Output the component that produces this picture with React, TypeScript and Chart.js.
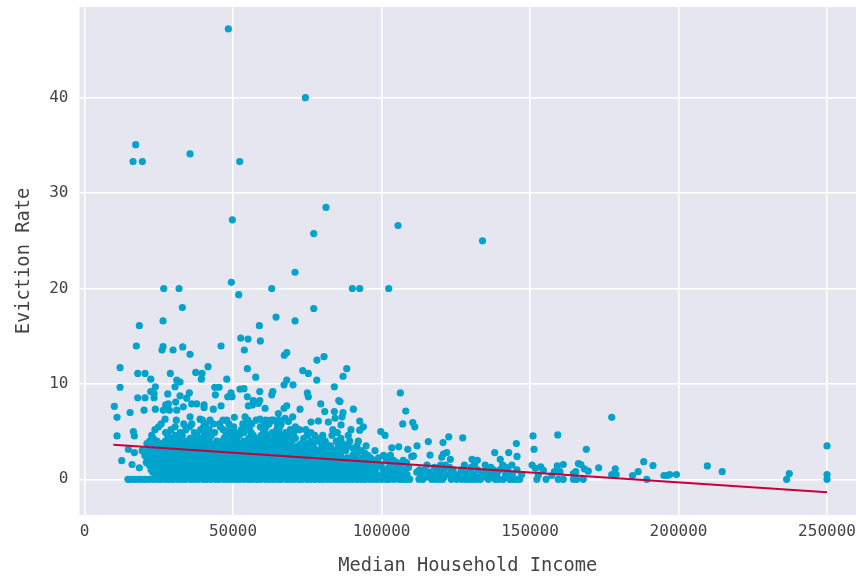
import React, { useEffect, useRef } from "react";
import { Chart, registerables } from "chart.js";

Chart.register(...registerables);

// Isolated points.
const sparseIncome = [
  48420, 74350, 17230, 16330, 19470, 35520, 52250, 81300, 49770, 77170, 105560, 70880, 49430, 26660, 31820, 63030, 90170, 92660, 102420, 51910,
  32930, 77170, 64480, 70880, 26430, 18450, 58860, 52590, 55050, 59190, 134000,
  17440, 26430, 26090, 29800, 33060, 35520, 45960, 53810, 68080, 67270, 78250, 80640, 11950, 17910, 20370, 28890, 37440, 39560, 41580,
  54820, 73470, 75360, 57640, 88280, 87040, 22290, 39330, 47880, 78180, 31040, 32150, 68080, 67170, 70200, 11950, 23840, 30470, 84110, 43840,
  45290, 52360, 53700, 59000, 63370, 63030, 22290, 23400, 28010, 35290, 49330, 48210, 44050, 75020, 75360, 106330, 32150, 17910, 20370, 23400,
  49670, 54820, 34400, 85590, 86000, 56840, 59000, 56500, 55150, 58520, 10030, 36090, 37780, 40240, 40240, 27340, 28220, 30700, 79530, 45960,
  68080, 67170, 60780, 72560, 90510, 23840, 20030, 26530, 28560, 31040, 33260, 43370, 108150, 15320, 80870, 84110, 87040, 86700, 65250, 10940,
  27110, 35520, 54040, 50440, 67510, 70090, 68620, 59090, 61890, 63570, 38890, 42260, 47880, 92660, 76260, 78730, 82090, 84350, 110510, 111180,
  107140, 86360, 93870, 92660, 99730, 101180, 10940, 16430, 16770, 14750, 16770, 12520, 15990, 18450,
  115750, 122630, 120700, 127340, 111960, 105790, 103430, 108820, 145390, 151010, 151350, 159330, 116330, 110170, 110740, 121950, 120810, 120270, 123170, 138110,
  142820, 145620, 139980, 130470, 132260, 168950, 177520, 250000, 250000, 250000, 237300, 236400, 214700, 209700, 199300, 197000, 195100, 196300, 191400, 188300,
  186400, 184500, 189300, 178700, 179000, 177500, 173100, 169600, 168300, 167900, 166300, 167100, 165400, 164600, 164600, 165700, 161200, 159200, 158200, 157300,
  160100, 161200, 159500, 155400, 152300, 154500, 153600, 151800, 150700, 152800,
];
const sparseRate = [
  47.2, 40.0, 35.07, 33.3, 33.3, 34.1, 33.3, 28.5, 27.2, 25.75, 26.6, 21.7, 20.65, 20, 20, 20, 20, 20, 20, 19.35,
  18.0, 17.9, 17.0, 16.6, 16.6, 16.1, 16.1, 14.8, 14.7, 14.5, 25,
  13.97, 13.9, 13.55, 13.55, 13.87, 13.1, 13.97, 13.55, 13.27, 13.0, 12.5, 12.85, 11.7, 11.1, 11.1, 11.1, 11.2, 11.1, 11.8,
  11.6, 11.4, 11.1, 10.7, 11.6, 10.8, 10.5, 10.5, 10.5, 10.4, 10.4, 10.2, 10.4, 9.9, 9.9, 9.65, 9.7, 9.7, 9.7, 9.65,
  9.65, 9.45, 9.5, 9.2, 9.2, 8.85, 9.2, 9.0, 8.95, 9.05, 9.05, 8.65, 8.85, 9.05, 8.65, 9.05, 8.75, 8.55, 8.55, 8.55,
  8.65, 8.65, 8.5, 8.25, 8.15, 8.25, 8.25, 7.8, 7.7, 7.95, 7.65, 7.9, 7.9, 7.8, 7.5, 7.8, 7.9, 8.1, 7.9, 7.7,
  7.7, 7.45, 7.45, 7.35, 7.35, 7.35, 7.25, 7.25, 7.25, 7.25, 7.6, 7.35, 7.15, 7.0, 7.1, 7.1, 7.0, 6.55, 6.9, 6.5,
  6.3, 6.55, 6.55, 6.5, 6.4, 6.55, 6.05, 6.3, 6.15, 6.2, 6.3, 6.2, 6.2, 6.1, 6.0, 6.1, 6.0, 6.4, 5.95, 5.5,
  5.8, 5.7, 5.5, 5.15, 5.0, 4.6, 4.55, 5.0, 4.55, 3.15, 2.8, 1.95, 1.55, 1.2,
  3.95, 4.45, 3.85, 4.35, 3.5, 3.4, 3.3, 3.15, 3.75, 4.55, 3.15, 4.65, 2.55, 2.4, 2.45, 2.8, 2.65, 2.3, 2.1, 2.8,
  2.8, 2.4, 2.1, 2.1, 2.0, 3.15, 6.5, 3.5, 0.5, 0.0, 0.6, 0.0, 0.8, 1.4, 0.5, 0.5, 0.4, 0.4, 1.45, 1.85,
  0.8, 0.4, 0.0, 1.1, 0.5, 0.5, 1.2, 0.85, 1.1, 0.0, 1.65, 1.55, 0.8, 0.6, 0.0, 0.0, 1.55, 1.4, 0.8, 0.4,
  0.8, 0.0, 0.0, 0.0, 0.0, 0.95, 1.3, 1.15, 1.5, 0.45,
];

// Dense cloud: incomes read along horizontal strips of the picture.
const stripRates = [0, 0.5, 1, 1.5, 2, 2.5, 3, 3.5, 4, 4.6, 5.2, 5.8, 0.25, 0.75, 1.25, 1.75, 2.25, 2.75, 3.25, 3.75, 4.3, 4.9, 5.5, 6.2];
const strip0 = [
  14600, 15500, 16800, 18100, 19300, 20500, 21900, 23200, 24600, 25800, 27300, 28600, 29900, 31400, 32800, 34100, 35700, 37000, 38300, 39900, 41200, 42600, 44100, 45300,
  46900, 48200, 49600, 51000, 52300, 53800, 55200, 56500, 58000, 59300, 60900, 62200, 63600, 65100, 66300, 67900, 69200, 70600, 72100, 73300, 74900, 76200, 77600, 79100,
  80300, 81800, 83200, 84700, 86000, 87500, 88900, 90200, 91700, 93100, 94400, 95900, 97300, 98600, 100100, 101500, 102600, 104200, 105900, 107100, 108300, 109500,
  112600, 113900, 116900, 118300, 119400, 120600, 123500, 125300, 127000, 128400, 129600, 130800, 132000, 133300, 136000, 138300, 139500, 141000, 143200, 144300, 145400, 146500,
];
const strip05 = [
  23800, 25900, 27700, 29800, 31600, 33900, 35700, 37800, 39700, 41500, 43900, 45800, 47700, 49900, 51600, 53900, 55700, 57600, 59800, 61600, 63900, 65700, 67600, 69900,
  71700, 73800, 75600, 77900, 79700, 81600, 83800, 85700, 87900, 89600, 91800, 93700, 95900, 98600, 100800, 103600, 106300, 108600, 113300, 117200, 119600, 122600, 125800,
  128500, 130900, 133800, 136900, 138800, 141800, 144000, 147200,
];
const strip1 = [
  22400, 24700, 26800, 28600, 30900, 32700, 34800, 36600, 38900, 40800, 42600, 44700, 46900, 48800, 50600, 52900, 54700, 56800, 58700, 60900, 62600, 64800, 66700, 68600,
  70800, 72900, 74600, 76800, 78600, 80900, 82700, 84600, 86900, 88700, 90800, 92600, 94900, 96900, 100600, 103900, 105600, 107900, 112800, 114300, 118700, 120900, 124100,
  126900, 129900, 132400, 135300, 137600, 139800, 142500, 145600,
];
const strip15 = [
  21800, 23600, 25900, 27900, 29700, 31800, 33600, 35900, 37700, 39600, 41800, 43900, 45700, 47600, 49800, 51700, 53600, 55900, 57800, 59700, 61600, 63900, 65700, 67800,
  69600, 71900, 73700, 75600, 77800, 79700, 81900, 83600, 85800, 87600, 89900, 91700, 93900, 96700, 99900, 104800, 106500, 115300, 119900, 121500, 127900, 131300, 134900, 140800, 143900,
];
const strip2 = [
  21100, 22900, 24800, 26900, 28800, 30700, 32900, 34700, 36800, 38600, 40900, 42700, 44800, 46600, 48900, 50700, 52800, 54600, 56900, 58800, 60600, 62800, 64700, 66900,
  68600, 70800, 72700, 74900, 76700, 78800, 80600, 82800, 84600, 87100, 89800, 92100, 94800, 97500, 101600, 104100, 107300,
];
const strip25 = [
  20300, 22100, 24200, 25900, 28100, 29900, 32000, 33800, 35900, 37700, 39900, 41800, 43600, 45900, 47800, 49600, 51900, 53700, 55800, 57600, 59900, 61700, 63800, 65600,
  67900, 69800, 71600, 73800, 75700, 77900, 79800, 81700, 84000, 86200, 90300, 95400, 100700, 103000,
];
const strip3 = [
  19400, 21500, 23200, 25400, 27700, 29300, 31500, 33200, 35400, 37100, 39300, 41400, 43100, 45200, 47400, 49100, 51300, 53200, 55400, 57100, 59300, 61400, 63200, 65400,
  67200, 69300, 71100, 73400, 75500, 78500, 81200, 84400, 87900, 93000, 97800,
];
const strip35 = [
  22900, 26700, 28900, 31100, 33700, 35300, 37600, 39800, 41300, 43600, 46700, 48300, 50600, 52800, 55300, 57300, 59700, 61800, 63700, 65900, 68200, 71800, 74100, 76800,
  79900, 82800, 85500, 88700, 91700, 94800,
];
const strip4 = [
  21900, 24400, 27200, 29700, 32300, 34400, 36800, 38700, 41100, 44500, 46300, 49200, 51400, 53700, 56200, 58400, 60600, 62900, 65000, 67400, 69800, 76300, 78500, 81000,
  84800, 89300, 92200,
];
const strip46 = [
  22600, 28000, 30400, 32900, 37900, 40300, 42700, 47600, 49800, 52100, 56800, 59500, 61300, 64100, 66100, 68700, 75000, 77500, 80200, 83300, 88800,
];
const strip52 = [
  23700, 29100, 34100, 39100, 41900, 46700, 48900, 52800, 55500, 60200, 64700, 69300, 72400, 74500, 83600, 89700,
];
const strip58 = [
  25800, 33400, 36100, 40800, 43300, 45400, 48600, 53300, 56300, 60500, 62100, 64900, 66200,
];
const strip025 = [
  24900, 26700, 28800, 30600, 32800, 34900, 36700, 38800, 40600, 42800, 44700, 46800, 48700, 50800, 52600, 54800, 56700, 58900, 60700, 62800, 64700, 66800, 68700, 70800,
  72600, 74800, 76700, 78800, 80700, 82800, 84700, 86800, 88700, 90900, 92700, 94900, 97100, 99600, 102100, 105000, 107600, 115100, 121100, 124300, 131900, 135200, 142600,
];
const strip075 = [
  23000, 25100, 27000, 29100, 31000, 33100, 35000, 37100, 38900, 41100, 43000, 45100, 47000, 49100, 51000, 53100, 55000, 57100, 59000, 61100, 63000, 65100, 67000, 69100,
  71000, 73100, 75000, 77100, 79000, 81100, 83000, 85100, 87000, 89100, 91000, 93100, 95200, 97800, 101700, 104700, 111900, 116000, 123500, 127700, 134400, 139000,
];
const strip125 = [
  22900, 25000, 27300, 29200, 31300, 33200, 35300, 37200, 39300, 41200, 43300, 45200, 47300, 49200, 51300, 53200, 55300, 57200, 59300, 61200, 63300, 65200, 67300, 69200,
  71300, 73200, 75300, 77200, 79300, 81200, 83300, 85200, 87300, 89200, 91300, 93200, 95300, 98300, 102400, 109100, 117800, 122900, 130200, 136800, 141900,
];
const strip175 = [
  20800, 22400, 24500, 26400, 28500, 30400, 32500, 34400, 36500, 38400, 40500, 42400, 44500, 46400, 48500, 50400, 52500, 54400, 56500, 58400, 60500, 62400, 64500, 66400,
  68500, 70400, 72500, 74400, 76500, 78400, 80500, 82400, 84500, 86400, 88500, 90900, 93300, 96100, 98800, 103000, 105200, 108400,
];
const strip225 = [
  21500, 23300, 25300, 27400, 29400, 31300, 33400, 35300, 37400, 39300, 41400, 43300, 45400, 47300, 49400, 51300, 53400, 55300, 57400, 59300, 61400, 63300, 65400, 67300,
  69400, 71300, 73400, 75300, 77400, 79300, 81400, 83300, 85400, 88400, 91400, 93700, 96300, 99000,
];
const strip275 = [
  22800, 24700, 26600, 28700, 30600, 32700, 34600, 36700, 38600, 40700, 42600, 44700, 46600, 48700, 50600, 52700, 54600, 56700, 58600, 60700, 62600, 64700, 66600, 68700,
  70600, 72700, 74600, 76700, 80400, 82900, 85200, 91800, 94300,
];
const strip325 = [
  24300, 26200, 28300, 30200, 32300, 34200, 36300, 38200, 40300, 42200, 44300, 46200, 48300, 50200, 52300, 54200, 56300, 58200, 60300, 62200, 64300, 66200, 68300, 70200,
  72300, 74800, 77300, 79900, 83100, 86800, 90400,
];
const strip375 = [
  21000, 25500, 27600, 29900, 32000, 34600, 36400, 38500, 40800, 42400, 44800, 47200, 49500, 51800, 54100, 56000, 58200, 60800, 62900, 64800, 67100, 69400, 73000, 75300, 81300, 86900,
];
const strip43 = [
  23100, 28500, 31000, 35600, 37400, 39900, 42000, 47000, 50700, 55300, 57600, 60000, 61900, 64400, 66500, 68600, 71000, 73800, 79500, 86300,
];
const strip49 = [
  27300, 32200, 37000, 41200, 43800, 48400, 51000, 53700, 56100, 60800, 63200, 65500, 67700, 70500, 76200, 85100,
];
const strip55 = [
  24900, 30500, 35400, 40100, 45700, 50200, 54300, 59200, 61100, 65800, 71000,
];
const strip62 = [
  30900, 39700, 46600, 55000, 57800, 61000, 63000, 65500,
];
const stripIncomes = [
  strip0, strip05, strip1, strip15, strip2, strip25, strip3, strip35, strip4, strip46, strip52, strip58,
  strip025, strip075, strip125, strip175, strip225, strip275, strip325, strip375, strip43, strip49, strip55, strip62,
];

// Fitted line end points.
const trendIncome = [9700, 250000];
const trendRate = [3.63, -1.36];

const xTicks = [0, 50000, 100000, 150000, 200000, 250000];
const yTicks = [0, 10, 20, 30, 40];

const monoFont = "'DejaVu Sans Mono', monospace";
const textColor = "#444444";

export default function App() {
  const ref = useRef<HTMLCanvasElement>(null);

  useEffect(() => {
    if (!ref.current) return;
    const cloud: { x: number; y: number }[] = sparseIncome.map((x, i) => ({ x, y: sparseRate[i] }));
    stripIncomes.forEach((incomes, s) => incomes.forEach((x) => cloud.push({ x, y: stripRates[s] })));
    const trend = trendIncome.map((x, i) => ({ x, y: trendRate[i] }));

    const chart = new Chart(ref.current, {
      type: "scatter",
      data: {
        datasets: [
          {
            data: trend,
            showLine: true,
            borderColor: "#c70039",
            borderWidth: 2,
            pointRadius: 0,
            order: 0,
          },
          {
            data: cloud,
            backgroundColor: "#00a3cc",
            borderWidth: 0,
            pointRadius: 3.6,
            order: 1,
          },
        ],
      },
      options: {
        responsive: false,
        animation: false,
        layout: { autoPadding: false, padding: { top: 7, right: 0, left: 0, bottom: 0 } },
        plugins: { legend: { display: false }, tooltip: { enabled: false } },
        scales: {
          x: {
            type: "linear",
            min: -1700,
            max: 259760,
            afterBuildTicks: (s: any) => { s.ticks = xTicks.map((value) => ({ value })); },
            afterFit: (s: any) => { s.height = 62; s.paddingLeft = 0; s.paddingRight = 0; },
            grid: { color: "#ffffff", lineWidth: 1.5, drawTicks: false },
            border: { display: false },
            ticks: { color: textColor, font: { family: monoFont, size: 16 }, padding: 7, maxRotation: 0, callback: (v: any) => String(v) },
            title: { display: true, text: "Median Household Income", color: textColor, font: { family: monoFont, size: 18.7 }, padding: { top: 8, bottom: 0 } },
          },
          y: {
            type: "linear",
            min: -3.74,
            max: 49.5,
            afterBuildTicks: (s: any) => { s.ticks = yTicks.map((value) => ({ value })); },
            afterFit: (s: any) => { s.width = 79.5; s.paddingTop = 0; s.paddingBottom = 0; },
            grid: { color: "#ffffff", lineWidth: 1.5, drawTicks: false },
            border: { display: false },
            ticks: { color: textColor, font: { family: monoFont, size: 16 }, padding: 11, callback: (v: any) => String(v) },
            title: { display: true, text: "Eviction Rate", color: textColor, font: { family: monoFont, size: 18.7 }, padding: { top: 13, bottom: 0 } },
          },
        },
      },
      plugins: [
        {
          id: "plotBackground",
          beforeDraw(c: any) {
            const { ctx, chartArea: a } = c;
            ctx.save();
            ctx.fillStyle = "#e6e6f0";
            ctx.fillRect(a.left, a.top, a.right - a.left, a.bottom - a.top);
            ctx.restore();
          },
        },
      ],
    } as any);
    return () => chart.destroy();
  }, []);

  return (
    <canvas
      ref={ref}
      width={856}
      height={577}
      style={{ position: "absolute", left: 0, top: 0, display: "block" }}
    />
  );
}
